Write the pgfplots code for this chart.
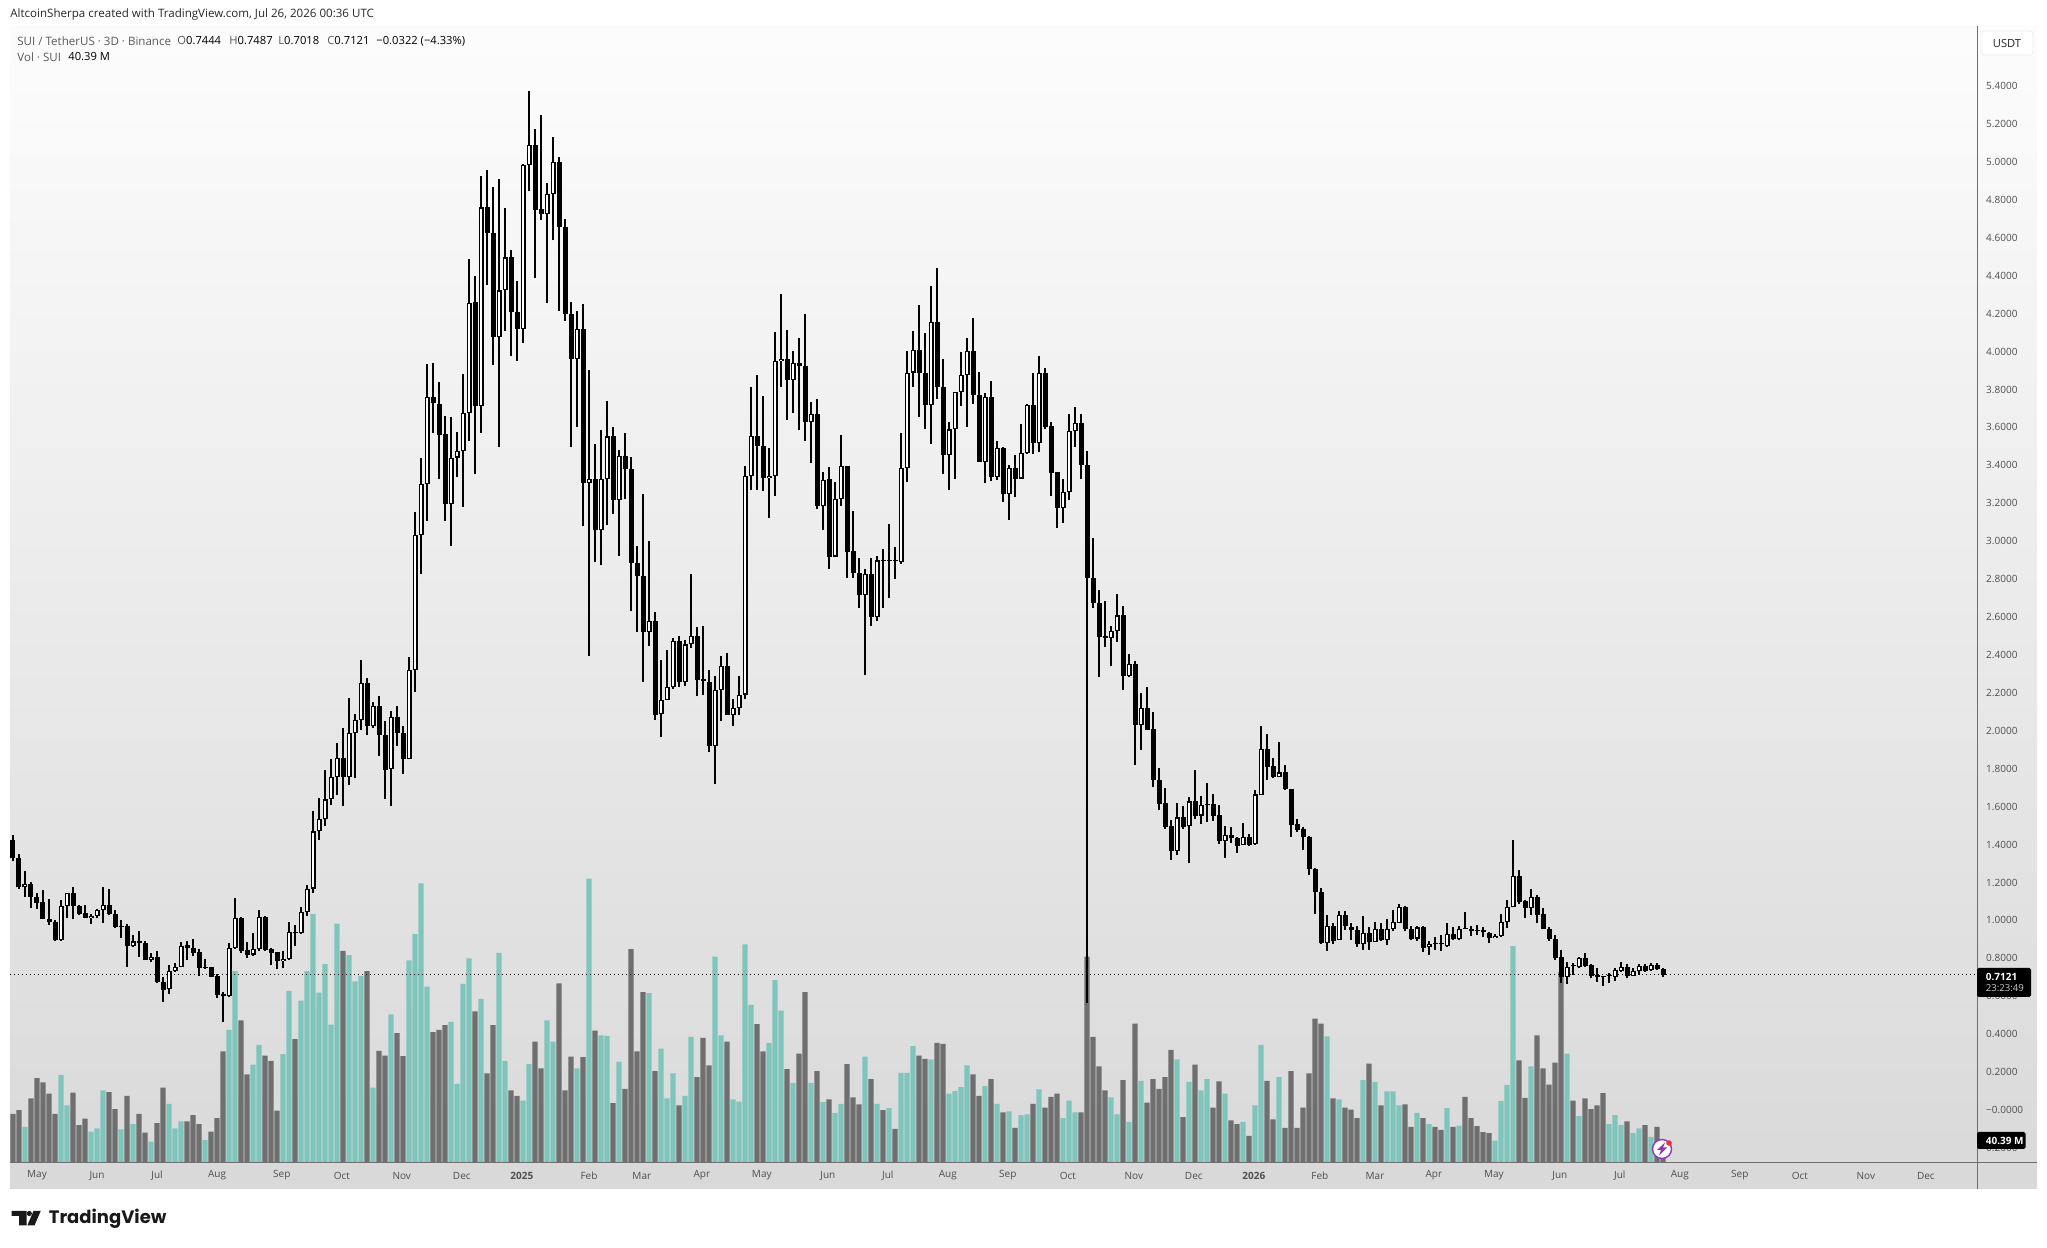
\documentclass[border=0pt]{standalone}
\usepackage{pgfplots}
\usepackage{pgfplotstable}
\usepackage{fontspec}
\pgfplotsset{compat=1.18}
\setmainfont{Open Sans}
\newfontfamily\tvfont{Poppins}
\definecolor{upvol}{HTML}{7FC5BC}
\definecolor{dnvol}{HTML}{6F6F6F}
\definecolor{scaletxt}{HTML}{4E4E4E}
\definecolor{linecol}{HTML}{6E6E6E}
\definecolor{iconpurple}{HTML}{9632B9}
\definecolor{iconred}{HTML}{EB323C}
\pgfplotstableread{
k O H L C V
0 1.424 1.451 1.311 1.327 91
1 1.329 1.349 1.168 1.174 98
2 1.174 1.263 1.121 1.194 67
3 1.194 1.204 1.067 1.121 120
4 1.123 1.147 1.061 1.093 158
5 1.097 1.158 1.006 1.008 150
6 1.008 1.113 0.976 0.990 129
7 0.994 1.000 0.889 0.895 91
8 0.895 1.107 0.891 1.077 164
9 1.077 1.147 1.012 1.147 107
10 1.147 1.174 1.006 1.077 131
11 1.075 1.083 1.026 1.036 70
12 1.038 1.083 1.010 1.012 82
13 1.012 1.036 0.980 1.024 58
14 1.022 1.061 1.010 1.053 64
15 1.055 1.174 0.984 1.081 135
16 1.081 1.168 1.026 1.032 132
17 1.034 1.053 0.960 0.966 100
18 0.966 1.000 0.905 0.970 62
19 0.968 0.982 0.754 0.863 125
20 0.863 0.925 0.859 0.889 72
21 0.891 0.943 0.808 0.879 91
22 0.881 0.889 0.790 0.790 56
23 0.790 0.830 0.778 0.806 39
24 0.808 0.838 0.669 0.673 74
25 0.677 0.703 0.572 0.634 140
26 0.636 0.764 0.612 0.733 110
27 0.733 0.774 0.729 0.756 64
28 0.754 0.885 0.754 0.865 77
29 0.869 0.891 0.790 0.853 77
30 0.855 0.903 0.810 0.830 89
31 0.832 0.851 0.709 0.747 72
32 0.747 0.798 0.743 0.752 42
33 0.752 0.754 0.699 0.703 58
34 0.705 0.717 0.592 0.608 83
35 0.610 0.622 0.465 0.602 208
36 0.600 0.879 0.596 0.855 248
37 0.853 1.117 0.851 1.012 358
38 1.014 1.016 0.828 0.840 266
39 0.842 0.885 0.800 0.818 165
40 0.820 0.935 0.810 0.848 183
41 0.848 1.057 0.838 1.018 220
42 1.020 1.024 0.838 0.842 200
43 0.851 0.855 0.764 0.830 190
44 0.832 0.834 0.743 0.784 97
45 0.784 0.838 0.747 0.798 203
46 0.794 0.992 0.790 0.937 321
47 0.937 0.976 0.865 0.931 231
48 0.931 1.073 0.929 1.044 303
49 1.042 1.188 1.022 1.168 358
50 1.168 1.578 1.147 1.469 465
51 1.469 1.648 1.424 1.533 318
52 1.533 1.794 1.497 1.638 371
53 1.638 1.851 1.608 1.756 258
54 1.756 1.933 1.663 1.857 447
55 1.857 2.012 1.602 1.756 396
56 1.756 2.172 1.713 1.988 388
57 1.988 2.087 1.749 2.057 339
58 2.057 2.374 2.006 2.253 349
59 2.253 2.279 1.976 2.024 358
60 2.024 2.154 2.016 2.129 140
61 2.129 2.182 1.869 1.978 209
62 1.978 2.051 1.642 1.792 200
63 1.798 2.103 1.602 2.073 277
64 2.071 2.133 1.921 1.988 242
65 1.988 2.026 1.774 1.851 199
66 1.851 2.390 1.849 2.319 378
67 2.318 3.154 2.207 3.034 427
68 3.034 3.441 2.825 3.300 522
69 3.300 3.936 3.105 3.759 329
70 3.759 3.938 3.573 3.726 244
71 3.724 3.842 3.326 3.561 248
72 3.564 3.658 3.107 3.194 257
73 3.194 3.653 2.977 3.441 263
74 3.441 3.578 3.338 3.477 147
75 3.477 3.879 3.182 3.674 334
76 3.674 4.489 3.526 4.254 382
77 4.259 4.400 3.352 3.712 283
78 3.712 4.927 3.571 4.760 306
79 4.760 4.960 4.352 4.626 167
80 4.626 4.868 3.931 4.075 257
81 4.075 4.911 3.495 4.322 392
82 4.322 4.755 4.108 4.496 190
83 4.496 4.534 3.979 4.211 135
84 4.211 4.374 3.950 4.119 125
85 4.119 4.990 4.046 4.984 116
86 4.984 5.372 4.845 5.090 184
87 5.090 5.172 4.388 4.748 226
88 4.753 5.250 4.692 4.727 176
89 4.727 4.890 4.254 4.831 266
90 4.831 5.134 4.586 5.000 226
91 5.000 5.026 4.214 4.657 335
92 4.657 4.701 4.162 4.197 135
93 4.197 4.261 3.495 3.960 198
94 3.960 4.214 3.601 4.117 176
95 4.117 4.249 3.079 3.307 197
96 3.307 3.903 2.393 3.326 531
97 3.326 3.512 2.888 3.057 247
98 3.057 3.587 2.872 3.326 238
99 3.326 3.738 3.084 3.552 237
100 3.552 3.602 3.143 3.218 111
101 3.218 3.479 2.923 3.451 189
102 3.451 3.571 3.220 3.378 138
103 3.378 3.446 2.631 2.883 399
104 2.883 2.977 2.519 2.815 208
105 2.815 3.249 2.259 2.523 319
106 2.523 3.001 2.448 2.580 317
107 2.580 2.624 2.059 2.083 171
108 2.090 2.372 1.965 2.161 213
109 2.161 2.424 2.160 2.229 120
110 2.229 2.490 2.222 2.473 167
111 2.473 2.502 2.229 2.259 107
112 2.259 2.481 2.236 2.455 125
113 2.455 2.825 2.436 2.502 235
114 2.502 2.547 2.182 2.267 160
115 2.269 2.552 2.189 2.265 233
116 2.259 2.323 1.887 1.920 182
117 1.920 2.288 1.717 2.217 385
118 2.217 2.393 2.054 2.342 238
119 2.342 2.412 2.085 2.085 226
120 2.085 2.165 2.024 2.121 118
121 2.121 2.288 2.085 2.191 114
122 2.191 3.394 2.170 3.343 408
123 3.343 3.811 3.272 3.555 295
124 3.555 3.875 3.272 3.503 259
125 3.503 3.766 3.265 3.331 208
126 3.331 3.491 3.123 3.343 224
127 3.343 4.101 3.237 3.950 341
128 3.950 4.301 3.811 3.962 284
129 3.960 4.112 3.639 3.848 175
130 3.848 4.001 3.676 3.941 149
131 3.941 4.070 3.588 3.925 204
132 3.925 4.200 3.529 3.626 319
133 3.626 3.733 3.410 3.672 149
134 3.672 3.750 3.172 3.187 171
135 3.187 3.367 3.058 3.324 113
136 3.326 3.391 2.852 2.919 118
137 2.919 3.312 2.919 3.224 93
138 3.224 3.561 3.187 3.395 110
139 3.395 3.398 2.806 2.945 184
140 2.947 3.157 2.806 2.830 122
141 2.830 2.913 2.649 2.714 109
142 2.714 2.852 2.294 2.826 198
143 2.826 2.909 2.552 2.599 156
144 2.599 2.922 2.580 2.898 110
145 2.898 2.959 2.649 2.896 98
146 2.896 3.089 2.700 2.898 102
147 2.898 2.969 2.803 2.896 63
148 2.891 3.571 2.880 3.386 168
149 3.386 4.001 3.311 3.889 168
150 3.889 4.107 3.811 4.007 218
151 4.007 4.246 3.654 3.889 200
152 3.889 4.098 3.589 3.718 194
153 3.718 4.344 3.515 4.157 193
154 4.158 4.440 3.752 3.811 224
155 3.811 3.962 3.354 3.455 222
156 3.455 3.631 3.269 3.589 129
157 3.589 3.789 3.330 3.787 134
158 3.787 3.996 3.715 3.876 141
159 3.876 4.070 3.603 4.001 182
160 4.001 4.177 3.724 3.770 165
161 3.770 3.894 3.419 3.419 125
162 3.419 3.779 3.305 3.761 143
163 3.761 3.847 3.315 3.336 156
164 3.336 3.528 3.324 3.493 110
165 3.493 3.497 3.209 3.250 94
166 3.250 3.403 3.113 3.385 96
167 3.385 3.455 3.231 3.330 65
168 3.330 3.616 3.330 3.467 89
169 3.463 3.724 3.459 3.720 90
170 3.720 3.885 3.459 3.517 110
171 3.517 3.977 3.468 3.889 137
172 3.889 3.912 3.589 3.604 103
173 3.606 3.626 3.237 3.361 123
174 3.365 3.367 3.071 3.176 129
175 3.176 3.326 3.098 3.261 83
176 3.259 3.668 3.215 3.579 116
177 3.579 3.709 3.497 3.622 94
178 3.622 3.668 3.330 3.404 94
179 3.404 3.478 0.563 2.805 385
180 2.805 3.015 2.648 2.676 235
181 2.676 2.744 2.285 2.497 180
182 2.501 2.682 2.442 2.488 135
183 2.488 2.550 2.340 2.525 122
184 2.525 2.719 2.469 2.608 90
185 2.611 2.657 2.213 2.289 154
186 2.289 2.403 2.283 2.354 76
187 2.354 2.367 1.821 2.028 260
188 2.028 2.200 1.901 2.120 153
189 2.120 2.232 2.006 2.006 112
190 2.010 2.098 1.706 1.738 156
191 1.742 1.806 1.584 1.614 138
192 1.617 1.700 1.484 1.493 160
193 1.497 1.530 1.316 1.366 211
194 1.368 1.617 1.345 1.543 193
195 1.543 1.602 1.484 1.493 85
196 1.497 1.651 1.303 1.627 151
197 1.627 1.793 1.534 1.551 183
198 1.553 1.658 1.510 1.610 135
199 1.610 1.724 1.521 1.612 156
200 1.612 1.664 1.525 1.551 103
201 1.556 1.606 1.404 1.418 152
202 1.419 1.497 1.331 1.451 129
203 1.451 1.493 1.410 1.432 79
204 1.436 1.441 1.358 1.392 72
205 1.395 1.514 1.395 1.440 76
206 1.440 1.458 1.392 1.399 50
207 1.401 1.688 1.399 1.664 107
208 1.660 2.024 1.660 1.904 220
209 1.904 1.983 1.743 1.810 153
210 1.813 1.854 1.750 1.756 81
211 1.758 1.941 1.756 1.780 160
212 1.780 1.817 1.688 1.691 65
213 1.695 1.695 1.441 1.503 171
214 1.506 1.534 1.465 1.477 65
215 1.484 1.492 1.371 1.438 103
216 1.442 1.445 1.238 1.270 167
217 1.271 1.275 1.035 1.148 269
218 1.148 1.170 0.877 0.881 260
219 0.881 1.029 0.840 0.970 236
220 0.971 0.988 0.877 0.892 120
221 0.894 1.047 0.894 1.031 118
222 1.029 1.047 0.951 0.970 103
223 0.966 0.988 0.896 0.949 99
224 0.951 0.970 0.859 0.877 83
225 0.877 1.025 0.844 0.935 154
226 0.935 0.964 0.844 0.885 185
227 0.887 0.994 0.887 0.957 151
228 0.957 0.988 0.892 0.896 107
229 0.894 1.007 0.868 0.957 133
230 0.955 1.053 0.942 0.992 133
231 0.988 1.085 0.985 1.070 107
232 1.070 1.077 0.942 0.957 109
233 0.957 0.970 0.896 0.901 67
234 0.904 0.972 0.893 0.963 93
235 0.967 0.970 0.835 0.856 83
236 0.858 0.893 0.818 0.877 72
237 0.877 0.914 0.844 0.875 67
238 0.876 0.923 0.840 0.874 61
239 0.867 0.985 0.861 0.930 102
240 0.930 0.963 0.897 0.900 67
241 0.900 0.970 0.897 0.956 69
242 0.960 1.043 0.952 0.956 123
243 0.956 0.970 0.918 0.944 83
244 0.948 0.976 0.923 0.944 68
245 0.948 0.967 0.914 0.937 57
246 0.935 0.939 0.883 0.905 55
247 0.905 0.928 0.905 0.919 41
248 0.919 1.032 0.914 0.992 115
249 0.992 1.108 0.958 1.069 145
250 1.069 1.422 1.069 1.234 405
251 1.234 1.266 1.086 1.099 191
252 1.101 1.108 1.011 1.064 121
253 1.064 1.164 1.028 1.122 180
254 1.122 1.134 0.985 1.030 238
255 1.034 1.064 0.953 0.955 176
256 0.956 0.963 0.893 0.904 146
257 0.904 0.923 0.791 0.803 187
258 0.805 0.844 0.672 0.700 357
259 0.703 0.782 0.665 0.756 204
260 0.761 0.774 0.712 0.758 116
261 0.752 0.805 0.750 0.800 87
262 0.800 0.826 0.756 0.761 120
263 0.767 0.770 0.694 0.708 100
264 0.714 0.747 0.677 0.703 107
265 0.703 0.707 0.654 0.700 130
266 0.707 0.724 0.672 0.710 72
267 0.703 0.747 0.682 0.737 89
268 0.735 0.782 0.730 0.756 70
269 0.756 0.770 0.694 0.707 77
270 0.708 0.747 0.708 0.731 55
271 0.733 0.770 0.712 0.761 64
272 0.761 0.770 0.728 0.735 70
273 0.738 0.774 0.735 0.763 48
274 0.765 0.777 0.738 0.742 67
275 0.7444 0.7487 0.7018 0.7121 40.39
}\T
\begin{document}
\begin{tikzpicture}
\useasboundingbox (0,0) rectangle (1023.5pt,624pt);
\shade[top color=white!99!black, bottom color=black!15] (5pt,611pt) rectangle (1018.5pt,29.5pt);
% volume
\begin{axis}[at={(5pt,42.7pt)},anchor=south west,scale only axis,width=983.5pt,height=568.3pt,
 xmin=-0.5,xmax=327.33,ymin=0,ymax=2125.4,ybar,axis line style={draw=none},
 tick style={draw=none},ytick=\empty,clip=true,
 xtick={4,14,24,34,44.8,54.8,64.8,74.8,84.8,96,104.8,114.8,124.8,135.8,145.8,155.8,165.8,175.8,186.8,196.8,206.8,217.8,227,236.8,246.8,257.8,267.8,277.8,287.8,297.8,308.8,318.8},
 xticklabels={May,Jun,Jul,Aug,Sep,Oct,Nov,Dec,\textbf{2025},Feb,Mar,Apr,May,Jun,Jul,Aug,Sep,Oct,Nov,Dec,\textbf{2026},Feb,Mar,Apr,May,Jun,Jul,Aug,Sep,Oct,Nov,Dec},
 xticklabel style={font=\fontsize{5}{6}\selectfont,text=scaletxt,anchor=center,inner sep=0pt,yshift=-2.2pt},
 unbounded coords=discard]
\addplot[fill=upvol,draw=none,bar width=2.6pt,bar shift=0pt] table[x=k,y expr={\thisrow{C}>=\thisrow{O}?\thisrow{V}:nan}]{\T};
\addplot[fill=dnvol,draw=none,bar width=2.6pt,bar shift=0pt] table[x=k,y expr={\thisrow{C}<\thisrow{O}?\thisrow{V}:nan}]{\T};
\end{axis}
% price
\begin{axis}[at={(5pt,42.7pt)},anchor=south west,scale only axis,width=983.5pt,height=568.3pt,
 xmin=-0.5,xmax=327.33,ymin=-0.2774,ymax=5.717,axis line style={draw=none},tick style={draw=none},
 xtick=\empty,yticklabel pos=right,
 ytick={-0.2,0,0.2,0.4,0.6,0.8,1,1.2,1.4,1.6,1.8,2,2.2,2.4,2.6,2.8,3,3.2,3.4,3.6,3.8,4,4.2,4.4,4.6,4.8,5,5.2,5.4},
 yticklabels={0.2000,−0.0000,0.2000,0.4000,0.6000,0.8000,1.0000,1.2000,1.4000,1.6000,1.8000,2.0000,2.2000,2.4000,2.6000,2.8000,3.0000,3.2000,3.4000,3.6000,3.8000,4.0000,4.2000,4.4000,4.6000,4.8000,5.0000,5.2000,5.4000},
 yticklabel style={font=\fontsize{5}{6}\selectfont,text=scaletxt,anchor=west,inner sep=0pt,xshift=4.4pt},
 unbounded coords=discard,clip=true]
\addplot[black,line width=0.5pt,dash pattern=on 0.5pt off 1.5pt] coordinates {(-0.5,0.7121) (327.33,0.7121)};
% wicks
\addplot[draw=none,no marks,error bars/.cd,y dir=both,y explicit,error mark=none,error bar style={solid,draw=black,line width=0.6pt}]
 table[x=k,y=L,y error plus expr={\thisrow{H}-\thisrow{L}},y error minus expr=0]{\T};
% bodies, outer
\addplot[draw=none,no marks,error bars/.cd,y dir=both,y explicit,error mark=none,error bar style={solid,draw=black,line width=2.5pt}]
 table[x=k,y expr={min(\thisrow{O},\thisrow{C})},y error plus expr={max(abs(\thisrow{C}-\thisrow{O}),0.006)},y error minus expr=0]{\T};
% bodies of rising candles, inner
\addplot[draw=none,no marks,error bars/.cd,y dir=both,y explicit,error mark=none,error bar style={solid,draw=white,line width=1.3pt}]
 table[x=k,y expr={\thisrow{C}-\thisrow{O}>0.0116?\thisrow{O}+0.0058:nan},y error plus expr={max(\thisrow{C}-\thisrow{O}-0.0116,0)},y error minus expr=0]{\T};
\end{axis}
\begin{scope}[x=0.5pt,y=-0.5pt,yshift=624pt]
\draw[linecol,line width=0.5pt] (1977,26) -- (1977,1189);
\draw[linecol,line width=0.5pt] (10,1162.6) -- (2037,1162.6);
% icon
\draw[fill=white,draw=iconpurple,line width=0.7pt] (1662,1149) circle (9.5);
\fill[iconpurple] (1665,1142.5) -- (1657,1150) -- (1661,1150) -- (1659,1155.5) -- (1667,1147.5) -- (1663,1147.5) -- cycle;
\fill[iconred] (1669,1143) circle (2.8);
% last-value labels
\fill[black,rounded corners=0.8pt] (1977,968) rectangle (2031,997);
\node[anchor=west,inner sep=0pt,text=white,font=\fontsize{5}{6}\selectfont\bfseries] at (1985.5,976.5) {0.7121};
\node[anchor=west,inner sep=0pt,text=black!20,font=\fontsize{4.8}{6}\selectfont] at (1985.5,988.5) {23:23:49};
\fill[black,rounded corners=0.8pt] (1977,1132) rectangle (2025.5,1149);
\node[anchor=west,inner sep=0pt,text=white,font=\fontsize{5}{6}\selectfont\bfseries] at (1985.5,1141) {40.39 M};
% unit button
\draw[black!7,fill=white,line width=0.4pt,rounded corners=1.5pt] (1981,31) rectangle (2033,55);
\node[inner sep=0pt,text=black!85,font=\fontsize{5.6}{6}\selectfont] at (2007,43.5) {USDT};
% header
\node[anchor=west,inner sep=0pt,text=black!85,font=\fontsize{5.78}{6}\selectfont] at (10,14.7) {AltcoinSherpa created with TradingView.com, Jul 26, 2026 00:36 UTC};
\node[anchor=west,inner sep=0pt,text=black!65,font=\fontsize{5.78}{6}\selectfont] at (17,41) {SUI / TetherUS · 3D · Binance};
\node[anchor=west,inner sep=0pt,font=\fontsize{5.6}{6}\selectfont] at (177,41) {\textcolor{black!65}{O}0.7444};
\node[anchor=west,inner sep=0pt,font=\fontsize{5.6}{6}\selectfont] at (229,41) {\textcolor{black!65}{H}0.7487};
\node[anchor=west,inner sep=0pt,font=\fontsize{5.6}{6}\selectfont] at (278,41) {\textcolor{black!65}{L}0.7018};
\node[anchor=west,inner sep=0pt,font=\fontsize{5.6}{6}\selectfont] at (327,41) {\textcolor{black!65}{C}0.7121};
\node[anchor=west,inner sep=0pt,font=\fontsize{5.6}{6}\selectfont] at (376,41) {−0.0322 (−4.33\%)};
\node[anchor=west,inner sep=0pt,text=black!65,font=\fontsize{5.78}{6}\selectfont] at (17,57) {Vol · SUI};
\node[anchor=west,inner sep=0pt,font=\fontsize{5.6}{6}\selectfont] at (68,57) {40.39 M};
% logo
\fill[black!90] (11.7,1211) -- (26.7,1211) -- (26.7,1225.5) -- (19.2,1225.5) -- (19.2,1216) -- (11.7,1216) -- cycle;
\fill[black!90] (29.3,1213.5) circle (2.6);
\fill[black!90] (33.5,1211) -- (40.7,1211) -- (34.5,1225.5) -- (27.3,1225.5) -- cycle;
\node[anchor=west,inner sep=0pt,text=black!90,font=\tvfont\fontsize{9}{12}\selectfont\bfseries] at (48.5,1218.5) {TradingView};
\end{scope}
\end{tikzpicture}
\end{document}
